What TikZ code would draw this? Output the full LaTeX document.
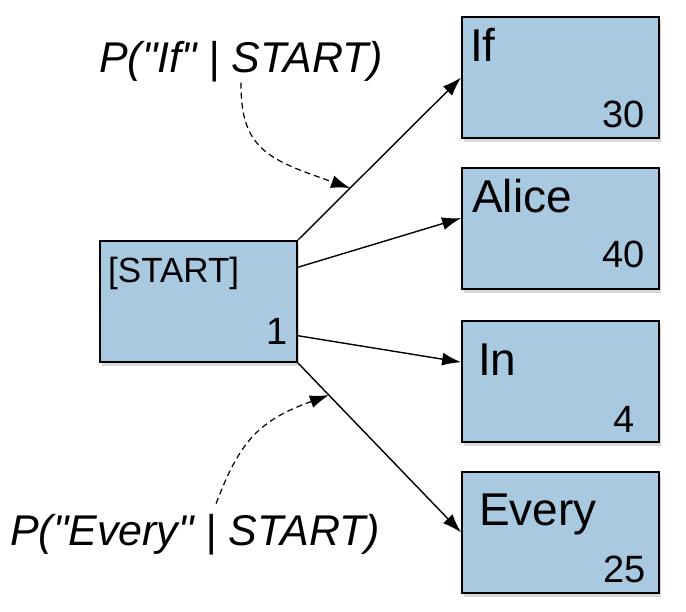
\documentclass[tikz,border=0pt]{standalone}
\usepackage{fontspec}
\setmainfont{Liberation Sans}[Ligatures=TeXOff]
\usepackage{xcolor}
\usetikzlibrary{arrows.meta,shadows}
\definecolor{boxblue}{RGB}{169,201,225}

\begin{document}
\begin{tikzpicture}[x=1pt, y=-1pt,
    box/.style={draw, rectangle, line width=1.8pt, fill=boxblue, minimum width=197pt, minimum height=121pt, inner sep=0pt,
        drop shadow={shadow xshift=2pt, shadow yshift=-4pt, opacity=0.3}},
    word/.style={inner sep=0pt, anchor=base west, font=\fontsize{46}{50}\selectfont},
    count/.style={inner sep=0pt, anchor=base east, font=\fontsize{38}{42}\selectfont},
    prob/.style={inner sep=0pt, anchor=base west, font=\fontsize{43}{48}\selectfont\itshape},
    edge/.style={-{Latex[length=19pt,width=13pt]}, line width=1.4pt},
    hint/.style={-{Latex[length=19pt,width=13pt]}, line width=1.2pt, dash pattern=on 6pt off 4pt}]
            \useasboundingbox (0,0) rectangle (686,612);

            \node[box] (start) at (198.5,301.5) {};
            \node[box] (if) at (560.5,77.5) {};
            \node[box] (alice) at (560.5,228.5) {};
            \node[box] (in) at (560.5,381.5) {};
            \node[box] (every) at (560.5,532.5) {};

            \node[word, font=\fontsize{35}{38}\selectfont] (starttext) at (108,283) {[START]};
            \node[count] (startcount) at (288,345) {1};
            \node[word] (iftext) at (470,62) {If};
            \node[count] (ifcount) at (645,128) {30};
            \node[word] (alicetext) at (472,213) {Alice};
            \node[count] (alicecount) at (645,268) {40};
            \node[word] (intext) at (478,376) {In};
            \node[count] (incount) at (635,432) {4};
            \node[word] (everytext) at (479,525) {Every};
            \node[count] (everycount) at (646,582) {25};

            \draw[edge] (start.north east) -- (if.west) coordinate[pos=0.32] (ifmid);
            \draw[edge] (start.19) -- (alice.174);
            \draw[edge] (start.-19) -- (in.169);
            \draw[edge] (start.south east) -- (every.west) coordinate[pos=0.19] (everymid);

            \node[prob] (pif) at (99,73) {P("If" | START)};
            \node[prob] (pevery) at (10,545) {P("Every" | START)};

            \draw[hint] (pif.south) .. controls (240,150) and (270,160) .. (ifmid);
            \draw[hint] ([xshift=21pt,yshift=10pt]pevery.north) .. controls (240,440) and (260,420) .. (everymid);
        \end{tikzpicture}
\end{document}
